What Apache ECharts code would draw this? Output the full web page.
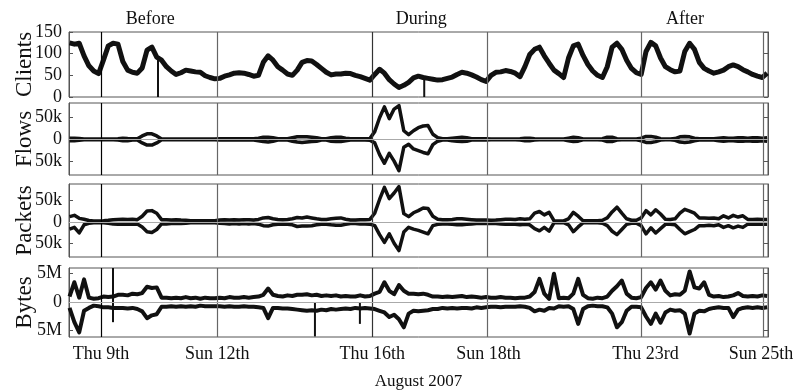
<!DOCTYPE html>
<html><head><meta charset="utf-8">
<script src="https://cdn.jsdelivr.net/npm/echarts@6/dist/echarts.min.js"></script>
<style>html,body{margin:0;padding:0;background:#fff}#c{width:796px;height:391px}</style>
</head><body><div id="c"></div>
<script>
// ---- time base (days of August 2007) ----
const startDay = 8.1875;
const stepDays = 0.125; // 3-hour samples
const xMin = 8.174, xMax = 26.21;

// tick labels (as printed in the original) and their day positions
const tickLabels = ['Thu 9th', 'Sun 12th', 'Thu 16th', 'Sun 18th', 'Thu 23rd', 'Sun 25th'];
const tickDays = [9, 12, 16, 19, 23.05, 26.03];
const dividerDays = [9, 12, 16, 18.97, 22.95, 26.08];
const periodLabels = ['Before', 'During', 'After'];
const periodDays = [10.27, 17.26, 24.07];

// ---- series values ----
const clients = [125,122,124,95,72,60,54,85,118,124,
122,82,62,57,55,67,108,115,92,85,
70,60,52,56,62,60,58,57,49,45,
42,43,48,51,55,56,55,52,48,50,
80,95,85,70,62,53,50,62,80,84,
83,75,66,57,51,53,53,55,54,50,
47,43,39,52,64,55,40,30,22,27,
34,44,48,45,43,41,39,40,43,46,
52,57,55,51,46,40,36,50,57,58,
61,59,55,47,70,98,110,115,95,78,
62,54,45,90,118,122,96,75,60,50,
45,70,115,124,110,85,66,56,52,105,
126,118,90,70,63,58,60,105,124,110,
80,66,60,55,58,62,70,74,70,63,
58,52,48,45,55];
// [day, from, to] dropouts
const clientsDrops = [[10.47, 90, 0], [17.34, 44, 0]];

const flowsPos = [3,3,2,1,1,1,1,1,1,1,
1.5,3,2,1.5,1.5,8,13,13,8,1,
1,1,0.8,1,1,0.8,1,1,1,1,
1,1.3,1.5,1.5,1.3,1.5,1.5,1.5,1.5,3,
5,5,4,1.5,1.5,1.5,4,6,6,6,
5,4,1.5,1.5,4,5,5,3,1.5,1.5,
1.5,1.5,2,18,50,75,48,70,78,20,
11,20,27,31,32,12,4,1.5,1.5,3,
4,5,4,1.5,1.5,1.5,1.3,1,1,1,
1,1,1,1.5,3,3,1.5,1,1,1,
1,1,1,3,5,4,1,1,1,1,
1.5,5,5,1.5,1,1,1,1,3,7,
7,5,1.5,1,1,2,6,7,6,3,
1.5,1.5,1.5,1.5,3,4,3,3,4,4,
3,4,4,3,4];
const flowsNeg = [-3,-3,-2,-1,-1,-1,-1,-1,-1,-1,
-1.5,-3,-3,-1.5,-1.5,-8,-13,-13,-8,-1,
-1,-1,-0.8,-1,-1,-0.8,-1,-1,-1,-1,
-1,-1.3,-1.5,-1.5,-1.3,-1.5,-1.5,-1.5,-1.5,-3,
-5,-6,-4,-1.5,-1.5,-1.5,-4,-6,-7,-6,
-5,-4,-1.5,-1.5,-4,-5,-5,-3,-1.5,-1.5,
-1.5,-1.5,-2,-8,-35,-55,-32,-50,-72,-18,
-11,-22,-26,-30,-33,-12,-4,-1.5,-1.5,-3,
-4,-5,-4,-1.5,-1.5,-1.5,-1.3,-1,-1,-1,
-1,-1,-1,-1.5,-3,-3,-1.5,-1,-1,-1,
-1,-1,-1,-3,-5,-4,-1,-1,-1,-1,
-1.5,-5,-5,-1.5,-1,-1,-1,-1,-3,-7,
-7,-5,-1.5,-1,-1,-2,-6,-7,-6,-3,
-1.5,-1.5,-1.5,-1.5,-3,-4,-3,-3,-4,-4,
-3,-4,-4,-3,-4];

const packetsPos = [12,15,8,6,3,2,2,2.5,3.5,5,
5.5,6,5.5,6,5,13,25,26,20,5,
5,4,5,4,3.5,2.5,2.5,2.5,2.5,2.5,
2.5,4,5,4,5,4,5,5,4,5.5,
9,10,7,5.5,5,5.5,7,10,9,11,
9,7,5.5,5.5,7,8,9,6,4,4,
5,5,5.5,20,52,80,54,67,82,19,
12,21,26,32,31,13,6,5,5,5.5,
7,7,6,5,4,4,4,3.5,4,5,
6,6,5.5,7,6,7,20,24,16,22,
2.5,2,2,7,22,13,2.5,2.5,2.5,2.5,
3.5,9,23,34,20,7,3.5,3.5,9,26,
16,28,18,6,5.5,7,20,29,25,20,
9,9,8,9,7,14,9,15,11,14,
5.5,5.5,6,5.5,5.5];
const packetsNeg = [-17,-13,-26,-7,-3.5,-2,-2,-2.5,-3.5,-5,
-5.5,-6,-5.5,-5.5,-5,-12,-23,-25,-18,-5,
-5,-4,-4,-4,-3.5,-2.5,-2.5,-2.5,-2.5,-2.5,
-2.5,-3.5,-4,-5,-4,-5,-4,-5,-4,-5.5,
-9,-10,-7,-5.5,-5,-5.5,-7,-11,-10,-10,
-9,-7,-5.5,-5.5,-7,-8,-8,-6,-4,-4,
-5,-5,-5.5,-9,-30,-48,-28,-50,-67,-24,
-13,-17,-20,-24,-28,-9,-6,-5,-5,-5.5,
-7,-7,-6,-5,-4,-4,-4,-3.5,-4,-5,
-6,-6,-5.5,-7,-6,-7,-16,-21,-13,-22,
-2.5,-2,-2,-7,-23,-12,-2.5,-2.5,-2.5,-2.5,
-3.5,-9,-22,-30,-18,-6,-3.5,-3.5,-9,-28,
-14,-26,-16,-6,-5.5,-7,-18,-28,-23,-18,
-9,-9,-8,-9,-7,-13,-9,-14,-10,-13,
-5.5,-5.5,-6,-5.5,-5.5];

const bytesPos = [1.0,3.5,0.8,4.0,0.8,0.6,0.7,1.0,0.9,1.0,
1.3,1.3,1.2,1.5,1.4,1.6,2.7,2.5,2.6,0.8,
0.8,0.7,0.8,0.7,0.9,0.7,0.8,0.6,0.8,0.7,
0.7,0.8,0.7,0.9,0.8,0.8,0.9,0.8,0.9,1.0,
1.3,2.4,1.3,1.1,1.0,1.2,1.1,1.3,1.3,1.4,
1.2,1.3,1.1,1.2,1.1,1.2,1.0,1.1,1.0,1.0,
1.2,1.0,1.1,1.5,1.8,3.5,2.0,1.4,3.0,2.0,
1.5,1.5,1.4,1.5,1.3,1.0,1.0,0.9,1.0,0.9,
1.0,1.1,0.9,1.0,0.9,0.8,0.9,0.8,0.8,0.9,
0.8,0.8,0.7,0.8,0.8,1.0,1.8,4.1,1.5,0.6,
5.0,0.7,0.8,0.7,1.5,4.1,1.3,0.7,0.6,0.8,
0.7,1.0,2.0,2.8,3.8,1.5,0.8,0.7,0.9,2.5,
3.5,2.2,3.8,2.0,1.2,1.4,1.3,2.0,5.4,2.6,
2.4,3.5,1.3,1.0,1.1,0.9,1.0,1.2,1.6,1.1,
1.0,1.1,1.0,1.2,1.1];
const bytesNeg = [-1.0,-3.5,-5.3,-1.5,-1.0,-0.6,-0.7,-0.9,-0.9,-1.0,
-1.0,-1.0,-1.1,-1.0,-1.2,-1.6,-2.8,-2.3,-2.1,-0.8,
-0.8,-0.7,-0.8,-0.7,-0.8,-0.7,-0.8,-0.6,-0.7,-0.7,
-0.7,-0.7,-0.8,-0.7,-0.8,-0.8,-0.7,-0.8,-0.8,-0.9,
-1.0,-2.8,-1.0,-1.0,-1.1,-1.1,-1.2,-1.3,-1.4,-1.5,
-1.4,-1.5,-1.3,-1.4,-1.2,-1.3,-1.2,-1.1,-1.2,-1.0,
-1.1,-1.0,-1.1,-1.2,-1.5,-1.8,-2.6,-2.2,-3.0,-4.4,
-2.0,-1.5,-1.6,-1.5,-1.4,-1.2,-1.2,-1.0,-1.1,-1.0,
-1.1,-1.0,-1.0,-1.1,-0.9,-1.0,-0.9,-0.8,-0.8,-0.9,
-0.8,-0.8,-0.8,-0.7,-0.8,-1.0,-1.6,-1.3,-1.5,-1.0,
-1.1,-0.7,-0.8,-0.7,-1.2,-3.8,-1.2,-0.7,-0.6,-0.7,
-0.7,-0.9,-2.0,-4.4,-3.5,-1.5,-0.8,-0.8,-0.9,-2.5,
-3.8,-2.0,-3.6,-1.8,-1.3,-1.5,-1.4,-2.0,-5.5,-2.0,
-1.5,-1.6,-1.2,-1.0,-0.9,-1.0,-1.0,-2.6,-1.3,-1.0,
-0.9,-1.0,-0.9,-1.0,-0.9];
const bytesSpikes = [[9.31, 0, 6.0], [9.31, 0, -3.5], [14.52, 0, -6.0], [15.68, 0, -3.8]];

// ---- chart ----
const FONT = 'Liberation Serif';
const INK = '#111';
const FRAME = '#555';
const pair = arr => arr.map((v, i) => [startDay + i * stepDays, v]);

const panels = [
  {name: 'Clients', min: 0, max: 150, labels: [0, 50, 100, 150], unit: '', top: 32, height: 65},
  {name: 'Flows', min: -82, max: 84, labels: [-50, 0, 50], unit: 'k', top: 103, height: 72},
  {name: 'Packets', min: -82, max: 88, labels: [-50, 0, 50], unit: 'k', top: 184, height: 73},
  {name: 'Bytes', min: -6.1, max: 6.0, labels: [-5, 0, 5], unit: 'M', top: 268, height: 69}
];

const grid = [], xAxis = [], yAxis = [], series = [];
panels.forEach((p, gi) => {
  grid.push({left: 69, right: 28, top: p.top, height: p.height, containLabel: false, outerBoundsMode: 'none',
    show: true, borderColor: FRAME, borderWidth: 1, backgroundColor: 'transparent'});
  const last = gi === panels.length - 1;
  xAxis.push({
    type: 'value', gridIndex: gi, min: xMin, max: xMax,
    axisLine: {show: false}, axisTick: {show: false}, splitLine: {show: false},
    axisLabel: last ? {
      show: true, customValues: tickDays, margin: 8,
      fontFamily: FONT, fontSize: 18, color: INK,
      formatter: v => { const k = tickDays.indexOf(v); return k >= 0 ? tickLabels[k] : ''; }
    } : {show: false},
    name: last ? 'August 2007' : '', nameLocation: 'middle', nameGap: 36, nameMoveOverlap: false,
    nameTextStyle: {fontFamily: FONT, fontSize: 17, color: INK}
  });
  const fmt = v => v === 0 ? '0' : Math.abs(v) + p.unit;
  yAxis.push({
    type: 'value', gridIndex: gi, min: p.min, max: p.max, position: 'left',
    axisLine: {show: true, lineStyle: {color: FRAME}},
    axisTick: {show: true, inside: true, length: 4, customValues: p.labels, lineStyle: {color: FRAME}},
    axisLabel: {customValues: p.labels, formatter: fmt, fontFamily: FONT, fontSize: 18, color: INK, margin: 7},
    splitLine: {show: false},
    name: p.name, nameLocation: 'middle', nameRotate: 90, nameGap: 33, nameMoveOverlap: false,
    nameTextStyle: {fontFamily: FONT, fontSize: 23, color: INK}
  });
  yAxis.push({
    type: 'value', gridIndex: gi, min: p.min, max: p.max, position: 'right',
    axisLine: {show: true, lineStyle: {color: FRAME}},
    axisTick: {show: true, inside: true, length: 4, customValues: p.labels, lineStyle: {color: FRAME}},
    axisLabel: {show: false}, splitLine: {show: false}
  });
  // divider lines
  series.push({
    type: 'line', xAxisIndex: gi, yAxisIndex: gi * 2, data: [], silent: true, z: 4,
    markLine: {
      silent: true, symbol: 'none', animation: false, label: {show: false},
      data: dividerDays.map((d, k) => ({xAxis: d, lineStyle: {color: k === 0 ? '#000' : (k === 2 ? '#333' : '#666'), width: 1.2, type: 'solid'}}))
    }
  });
});

const lineStyle = w => ({color: INK, width: w, join: 'round'});
const base = {type: 'line', showSymbol: false, symbol: 'none', animation: false, silent: true};

series.push(Object.assign({}, base, {xAxisIndex: 0, yAxisIndex: 0, data: pair(clients), lineStyle: lineStyle(5), z: 3}));
clientsDrops.forEach(s => series.push(Object.assign({}, base, {xAxisIndex: 0, yAxisIndex: 0, data: [[s[0], s[1]], [s[0], s[2]]], lineStyle: lineStyle(2), z: 3})));

const traffic = [[flowsPos, flowsNeg, 3.5], [packetsPos, packetsNeg, 3.5], [bytesPos, bytesNeg, 4]];
traffic.forEach((pr, k) => {
  const gi = k + 1;
  [pr[0], pr[1]].forEach(arr => series.push(Object.assign({}, base, {xAxisIndex: gi, yAxisIndex: gi * 2, data: pair(arr), lineStyle: lineStyle(pr[2]), z: 3})));
  // zero line
  series.push({type: 'line', xAxisIndex: gi, yAxisIndex: gi * 2, data: [], z: 6, silent: true,
    markLine: {silent: true, symbol: 'none', animation: false, label: {show: false},
      data: [{yAxis: 0}], lineStyle: {color: '#aaa', width: 1, type: 'solid'}}});
});
bytesSpikes.forEach(s => series.push(Object.assign({}, base, {xAxisIndex: 3, yAxisIndex: 6, data: [[s[0], s[1]], [s[0], s[2]]], lineStyle: lineStyle(2), z: 3})));

const chart = echarts.init(document.getElementById('c'), null, {renderer: 'canvas'});
chart.setOption({
  backgroundColor: '#fff', animation: false,
  grid, xAxis, yAxis, series
});
// period labels above the top panel, placed on the day axis
const titles = periodLabels.map((t, k) => ({
  text: t, left: chart.convertToPixel({xAxisIndex: 0}, periodDays[k]), top: 10, padding: 0, textAlign: 'center',
  textStyle: {fontFamily: FONT, fontSize: 18, fontWeight: 'normal', color: INK}
}));
chart.setOption({title: titles});
</script></body></html>
